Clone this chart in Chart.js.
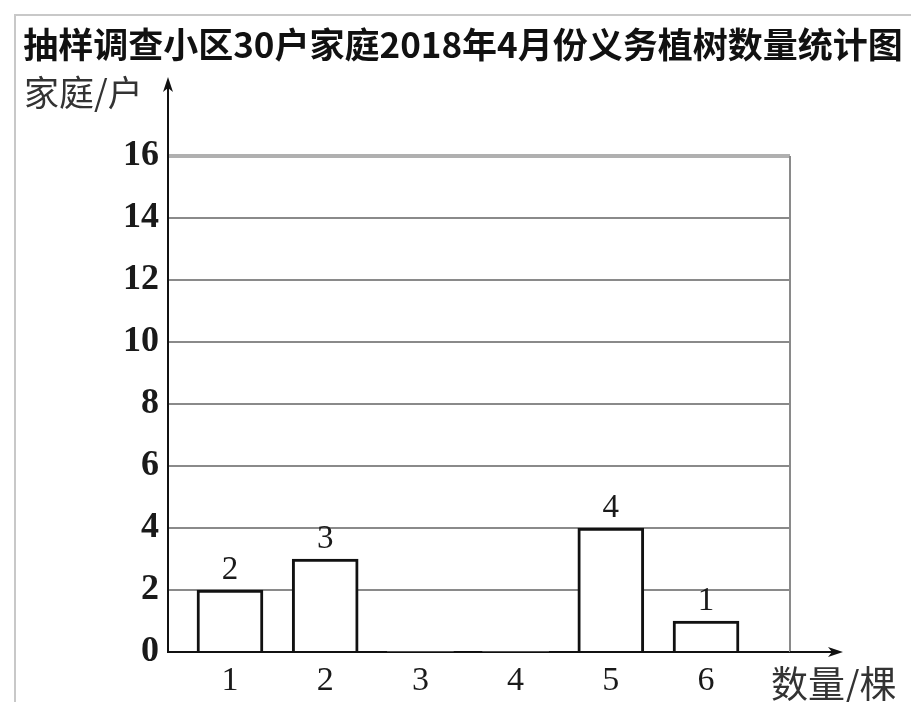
<!DOCTYPE html>
<html>
<head>
<meta charset="utf-8">
<script src="https://cdn.jsdelivr.net/npm/chart.js@4/dist/chart.umd.min.js"></script>
<style>
html,body{margin:0;padding:0;background:#fff;}
#wrap{width:911px;height:702px;position:relative;}
</style>
</head>
<body>
<div id="wrap"><canvas id="c" width="911" height="702"></canvas></div>
<script>
const chartTitle = '抽样调查小区30户家庭2018年4月份义务植树数量统计图';
const yAxisTitle = '家庭/户';
const xAxisTitle = '数量/棵';
const treeCounts = [1, 2, 3, 4, 5, 6];
const households = [2, 3, 0, 0, 4, 1];
const yTicks = [0, 2, 4, 6, 8, 10, 12, 14, 16];

const points = treeCounts.map((c, i) => ({ x: c, y: households[i] }));

const decor = {
  id: 'decor',
  afterDraw(chart) {
    const ctx = chart.ctx;
    const a = chart.chartArea;
    const ys = chart.scales.y;
    ctx.save();
    // image frame
    ctx.strokeStyle = '#c8c8c8';
    ctx.lineWidth = 2;
    ctx.beginPath();
    ctx.moveTo(15, 702); ctx.lineTo(15, 15); ctx.lineTo(911, 15);
    ctx.stroke();
    // right border of grid
    ctx.strokeStyle = '#8a8a8a';
    ctx.lineWidth = 2;
    ctx.beginPath();
    ctx.moveTo(a.right, ys.getPixelForValue(16));
    ctx.lineTo(a.right, a.bottom);
    ctx.stroke();
    // axis extensions with arrows
    ctx.strokeStyle = '#111';
    ctx.fillStyle = '#111';
    ctx.lineWidth = 2;
    const x0 = a.left, y0 = a.bottom;
    const yTip = 77, xTip = 843;
    ctx.beginPath();
    ctx.moveTo(x0, a.top); ctx.lineTo(x0, yTip + 8);
    ctx.moveTo(a.right, y0); ctx.lineTo(xTip - 8, y0);
    ctx.stroke();
    ctx.beginPath();
    ctx.moveTo(x0, yTip); ctx.lineTo(x0 - 5, yTip + 15); ctx.lineTo(x0, yTip + 11); ctx.lineTo(x0 + 5, yTip + 15); ctx.closePath();
    ctx.fill();
    ctx.beginPath();
    ctx.moveTo(xTip, y0); ctx.lineTo(xTip - 15, y0 - 5); ctx.lineTo(xTip - 11, y0); ctx.lineTo(xTip - 15, y0 + 5); ctx.closePath();
    ctx.fill();
    // value labels
    ctx.font = '33px "Liberation Serif", "DejaVu Serif", serif';
    ctx.fillStyle = '#1a1a1a';
    ctx.textAlign = 'center';
    ctx.textBaseline = 'alphabetic';
    const meta = chart.getDatasetMeta(0);
    meta.data.forEach((bar, i) => {
      const v = households[i];
      if (v > 0) ctx.fillText(String(v), bar.x, bar.y - 11);
    });
    // axis titles
    ctx.font = '35px "Noto Sans CJK SC", sans-serif';
    ctx.fillStyle = '#333';
    ctx.textAlign = 'left';
    ctx.textBaseline = 'middle';
    ctx.fillText(yAxisTitle, 24, 93);
    ctx.font = '37px "Noto Sans CJK SC", sans-serif';
    ctx.fillText(xAxisTitle, 771, 684);
    ctx.restore();
  }
};

new Chart(document.getElementById('c'), {
  type: 'bar',
  data: {
    datasets: [{
      data: points,
      backgroundColor: '#ffffff',
      borderColor: '#111111',
      borderWidth: (c) => (households[c.dataIndex] > 0 ? 3 : 0),
      borderSkipped: 'bottom',
      barThickness: 66
    }]
  },
  options: {
    responsive: false,
    animation: false,
    devicePixelRatio: 1,
    layout: { padding: { left: 15, right: 0, top: 0, bottom: 0 } },
    plugins: {
      legend: { display: false },
      tooltip: { enabled: false },
      title: {
        display: true,
        text: chartTitle,
        color: '#111',
        font: { family: '"Noto Sans CJK SC", sans-serif', size: 35, weight: 'bold', lineHeight: 1.2 },
        padding: { top: 24, bottom: 90 }
      }
    },
    scales: {
      x: {
        type: 'linear',
        offset: false,
        min: 0.349,
        max: 6.882,
        afterBuildTicks: (s) => { s.ticks = treeCounts.map(v => ({ value: v })); },
        afterFit: (s) => { s.height = 50; },
        grid: { display: false, drawTicks: false },
        border: { display: true, color: '#111', width: 2 },
        ticks: {
          color: '#1a1a1a',
          padding: 9,
          maxRotation: 0,
          autoSkip: false,
          font: { family: '"Liberation Serif", "DejaVu Serif", serif', size: 34 }
        }
      },
      y: {
        type: 'linear',
        position: 'left',
        min: 0,
        max: 16,
        afterBuildTicks: (s) => { s.ticks = yTicks.map(v => ({ value: v })); },
        afterFit: (s) => { s.width = 153; },
        grid: {
          drawTicks: false,
          color: (c) => (c.tick && c.tick.value === 16 ? '#b0b0b0' : '#8a8a8a'),
          lineWidth: (c) => (c.tick && c.tick.value === 16 ? 4 : 2)
        },
        border: { display: true, color: '#111', width: 2 },
        ticks: {
          color: '#1a1a1a',
          padding: 9,
          font: { family: '"Liberation Serif", "DejaVu Serif", serif', size: 36, weight: 'bold' }
        }
      },
      yRight: {
        type: 'linear',
        position: 'right',
        display: true,
        afterFit: (s) => { s.width = 121; },
        grid: { display: false, drawTicks: false },
        border: { display: false },
        ticks: { display: false }
      }
    }
  },
  plugins: [decor]
});
</script>
</body>
</html>
